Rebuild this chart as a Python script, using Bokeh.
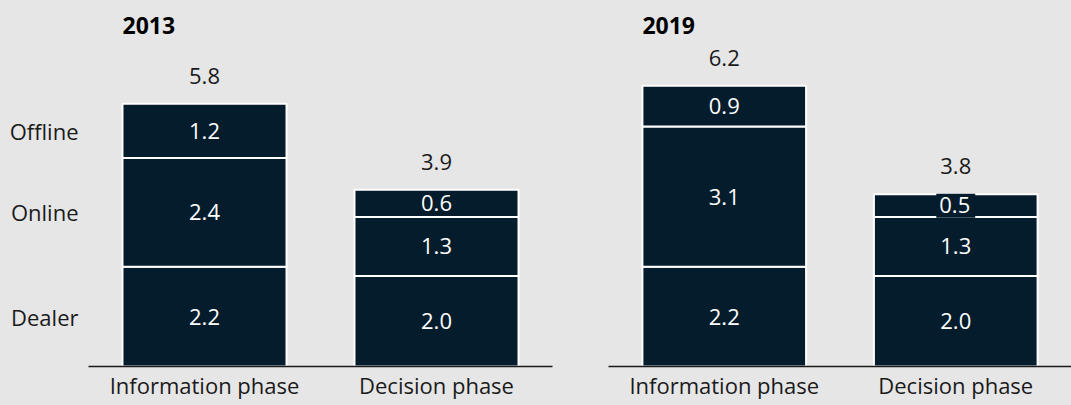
from bokeh.plotting import figure
from bokeh.layouts import row
from bokeh.models import ColumnDataSource, FactorRange, Range1d, Label, FixedTicker
from bokeh.core.properties import value
from bokeh.embed import file_html
from bokeh.resources import INLINE

phases = ["Information phase", "Decision phase"]
channels = ["Dealer", "Online", "Offline"]
years = ["2013", "2019"]

dealer_2013 = [2.2, 2.0]
online_2013 = [2.4, 1.3]
offline_2013 = [1.2, 0.6]
total_2013 = [5.8, 3.9]

dealer_2019 = [2.2, 2.0]
online_2019 = [3.1, 1.3]
offline_2019 = [0.9, 0.5]
total_2019 = [6.2, 3.8]

NAVY = "#051c2c"
BG = "#e6e6e6"
TXT = "#1a1a1a"
FONT = "Open Sans"
FS = "22px"
BAR_W = 0.707
PX_PER_UNIT = 45.3
FIG_H = 405
BOTTOM = 39
FRAME_H = FIG_H - BOTTOM


def make_panel(year, series, totals, left_border, right_border, frame_w, row_labels):
    p = figure(x_range=FactorRange(*phases, factor_padding=0, range_padding=0),
               y_range=Range1d(0, FRAME_H / PX_PER_UNIT),
               width=left_border + frame_w + right_border, height=FIG_H,
               min_border_left=left_border, min_border_right=right_border,
               min_border_top=0, min_border_bottom=BOTTOM,
               output_backend="svg", toolbar_location=None,
               y_axis_location="left" if row_labels else None)
    p.background_fill_color = BG
    p.border_fill_color = BG
    p.outline_line_color = None
    p.grid.visible = False

    xs, bottoms, tops = [], [], []
    big_x, big_y, big_t = [], [], []
    small_x, small_y, small_t = [], [], []
    for i, ph in enumerate(phases):
        base = 0.0
        for s in series:
            v = s[i]
            xs.append(ph)
            bottoms.append(base)
            tops.append(base + v)
            mid = base + v / 2
            if v < 0.55:
                small_x.append(ph); small_y.append(mid); small_t.append(f"{v:.1f}")
            else:
                big_x.append(ph); big_y.append(mid); big_t.append(f"{v:.1f}")
            base += v
    seg = ColumnDataSource(dict(x=xs, bottom=bottoms, top=tops))
    p.vbar(x="x", bottom="bottom", top="top", width=BAR_W, source=seg,
           fill_color=NAVY, line_color="white", line_width=2)

    lab = ColumnDataSource(dict(x=big_x, y=big_y, t=big_t))
    p.text(x="x", y="y", text="t", source=lab, text_color="white",
           text_font=value(FONT), text_font_size=FS,
           text_align="center", text_baseline="middle")
    if small_x:
        sm = ColumnDataSource(dict(x=small_x, y=small_y, t=small_t))
        p.text(x="x", y="y", text="t", source=sm, text_color="white",
               text_font=value(FONT), text_font_size=FS,
               text_align="center", text_baseline="middle",
               background_fill_color=NAVY, padding=[3, 5, 3, 5])

    tot_y = [v + 28 / PX_PER_UNIT for v in totals]
    tot = ColumnDataSource(dict(x=phases, y=tot_y, t=[f"{v:.1f}" for v in totals]))
    p.text(x="x", y="y", text="t", source=tot, text_color=TXT,
           text_font=value(FONT), text_font_size=FS,
           text_align="center", text_baseline="middle")

    title = Label(x=0.5 - BAR_W / 2, y=(FRAME_H - 25) / PX_PER_UNIT, text=year,
                  text_font=FONT, text_font_size="23px", text_font_style="bold",
                  text_color="#000000", text_align="left", text_baseline="middle")
    p.add_layout(title)

    if row_labels:
        ticks, overrides = [], {}
        base = 0.0
        for name, s in zip(channels, series):
            v = s[0]
            m = round(base + v / 2, 3)
            ticks.append(m)
            overrides[m] = name
            base += v
        ya = p.yaxis[0]
        ya.ticker = FixedTicker(ticks=ticks)
        ya.major_label_overrides = overrides
        ya.axis_line_color = None
        ya.major_tick_line_color = None
        ya.minor_tick_line_color = None
        ya.major_tick_out = 0
        ya.major_tick_in = 0
        ya.major_label_standoff = 10
        ya.major_label_text_font = FONT
        ya.major_label_text_font_size = FS
        ya.major_label_text_color = TXT

    ax = p.xaxis[0]
    ax.axis_line_color = TXT
    ax.axis_line_width = 1.5
    ax.major_tick_line_color = None
    ax.minor_tick_line_color = None
    ax.major_tick_out = 0
    ax.major_tick_in = 0
    ax.major_label_text_font = FONT
    ax.major_label_text_font_size = FS
    ax.major_label_text_color = TXT
    ax.major_label_standoff = 3
    return p


p1 = make_panel(years[0], [dealer_2013, online_2013, offline_2013], total_2013,
                88, 28, 464, True)
p2 = make_panel(years[1], [dealer_2019, online_2019, offline_2019], total_2019,
                28, 0, 463, False)

layout = row(p1, p2)
html = file_html(layout, INLINE)
html = html.replace("<head>", "<head><style>html,body{background:#e6e6e6;}</style>", 1)
open("out.html", "w").write(html)
